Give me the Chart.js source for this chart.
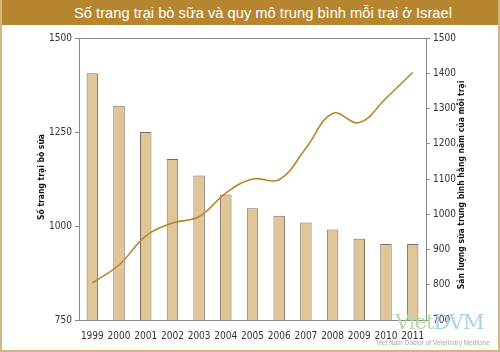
<!DOCTYPE html>
<html>
<head>
<meta charset="utf-8">
<script src="https://cdn.jsdelivr.net/npm/chart.js@4.4.1/dist/chart.umd.min.js"></script>
<style>
  html, body { margin: 0; padding: 0; background: #fff; }
  #wrap { position: relative; width: 500px; height: 352px; overflow: hidden; }
  #c { position: absolute; left: 0; top: 0; }
  #frame { position: absolute; left: 0; top: 0; width: 496px; height: 350px; border-left: 2px solid #d4b580; border-right: 2px solid #d4b580; border-bottom: 2px solid #d4b580; pointer-events: none; }
  #title { position: absolute; left: 0; top: 0; width: 500px; height: 25px; background: #b5862f; color: #fff;
    font-family: "Liberation Sans", Arial, sans-serif; font-size: 14.7px; line-height: 26px; text-align: center; padding-left: 26px; box-sizing: border-box; }
  #wm1 { position: absolute; left: 395px; top: 309px; font-family: "DejaVu Serif", "Liberation Serif", serif; font-size: 21px; line-height: 26px; letter-spacing: -1px; }
  #wm1 .a { color: #b3dcab; }
  #wm1 .b { color: #a6d2ea; }
  #wm2 { position: absolute; left: 370px; top: 339px; width: 126px; font-family: "Liberation Sans Narrow", "Liberation Sans", sans-serif; font-size: 6.5px; color: #a5aaaa; text-align: center; }
</style>
</head>
<body>
<div id="wrap">
  <canvas id="c" width="500" height="352"></canvas>
  <div id="wm1"><span class="a">Viet</span><span class="b">DVM</span></div>
  <div id="wm2">Viet Nam Doctor of Veterinary Medicine</div>
  <div id="title">Số trang trại bò sữa và quy mô trung bình mỗi trại ở Israel</div>
  <div id="frame"></div>
</div>
<script>
const years = ['1999','2000','2001','2002','2003','2004','2005','2006','2007','2008','2009','2010','2011'];
const farms = [1406, 1320, 1250, 1178, 1134, 1084, 1047, 1027, 1009, 991, 966, 952, 952];
const milkPerFarm = [805, 856, 938, 975, 993, 1060, 1100, 1098, 1187, 1286, 1260, 1329, 1402];
const leftTicks = [750, 1000, 1250, 1500];
const rightTicks = [700, 800, 900, 1000, 1100, 1200, 1300, 1400, 1500];
const leftTitle = 'Số trang trại bò sữa';
const rightTitle = 'Sản lượng sữa trung bình hằng năm của mỗi trại';

const tickFont = { family: '"Liberation Sans Narrow", "DejaVu Sans Condensed", Arial, sans-serif', size: 10 };
const titleFontCss = 'bold 8.5px "Liberation Sans Narrow", "DejaVu Sans Condensed", Arial, sans-serif';

const frameBox = {
  id: 'frameBox',
  afterDatasetsDraw(chart) {
    const a = chart.chartArea, ctx = chart.ctx;
    ctx.save();
    ctx.strokeStyle = '#8a8a8a';
    ctx.lineWidth = 1;
    ctx.beginPath();
    ctx.moveTo(a.left, a.top + 0.5);
    ctx.lineTo(a.right, a.top + 0.5);
    ctx.stroke();
    // axis titles, both reading bottom-to-top
    ctx.fillStyle = '#111';
    ctx.font = titleFontCss;
    ctx.textAlign = 'center';
    ctx.textBaseline = 'middle';
    const mid = (a.top + a.bottom) / 2;
    ctx.save();
    ctx.translate(42, mid - 2);
    ctx.rotate(-Math.PI / 2);
    ctx.fillText(leftTitle, 0, 0);
    ctx.restore();
    ctx.save();
    ctx.translate(462, mid + 6);
    ctx.rotate(-Math.PI / 2);
    ctx.fillText(rightTitle, 0, 0);
    ctx.restore();
    ctx.restore();
  }
};

new Chart(document.getElementById('c'), {
  data: {
    labels: years,
    datasets: [
      {
        type: 'line', data: milkPerFarm, yAxisID: 'y1',
        borderColor: '#b8862a', borderWidth: 1.6, pointRadius: 0, tension: 0.4, fill: false, order: 0
      },
      {
        type: 'bar', data: farms, yAxisID: 'y',
        backgroundColor: '#dfc597', borderColor: '#7c6e5c', borderWidth: 1,
        categoryPercentage: 1, barPercentage: 0.43, order: 1
      }
    ]
  },
  options: {
    responsive: false, animation: false,
    layout: { padding: { top: 38, left: 30, right: 28, bottom: 0 } },
    plugins: { legend: { display: false }, tooltip: { enabled: false }, title: { display: false } },
    scales: {
      x: {
        offset: true,
        grid: { display: false },
        border: { display: true, color: '#8a8a8a', width: 1 },
        ticks: { font: tickFont, color: '#333', padding: 2, maxRotation: 0, autoSkip: false },
        afterFit(s) { s.height = 32; }
      },
      y: {
        position: 'left', min: 750, max: 1500,
        afterBuildTicks(s) { s.ticks = leftTicks.map(v => ({ value: v })); },
        grid: { drawOnChartArea: false, tickLength: 4, color: '#8a8a8a' },
        border: { display: true, color: '#8a8a8a', width: 1 },
        ticks: { font: tickFont, color: '#333', padding: 3, callback: v => String(v) },
        afterFit(s) { s.width = 49; }
      },
      y1: {
        position: 'right', min: 700, max: 1500,
        afterBuildTicks(s) { s.ticks = rightTicks.map(v => ({ value: v })); },
        grid: { drawOnChartArea: false, tickLength: 4, color: '#8a8a8a' },
        border: { display: true, color: '#8a8a8a', width: 1 },
        ticks: { font: tickFont, color: '#333', padding: 3, callback: v => String(v) },
        afterFit(s) { s.width = 46; }
      }
    }
  },
  plugins: [frameBox]
});
</script>
</body>
</html>
